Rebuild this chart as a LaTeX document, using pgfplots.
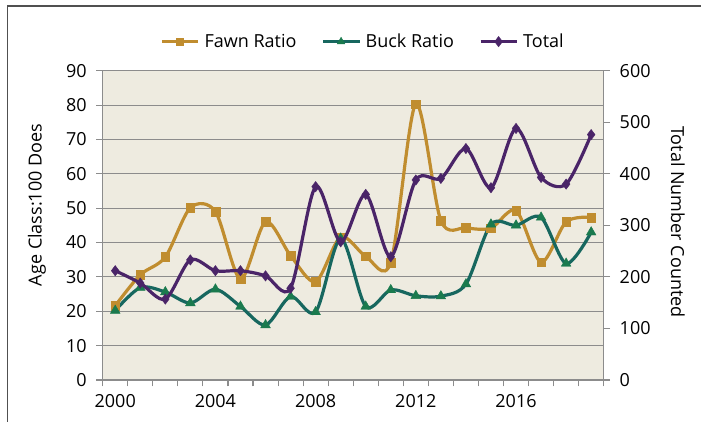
\documentclass[border=0pt]{standalone}
\usepackage{fontspec}
\setmainfont{Open Sans}
\usepackage{pgfplots}
\usepackage{pgfplotstable}
\pgfplotsset{compat=1.18}
\definecolor{fawn}{HTML}{C08D2F}
\definecolor{buck}{HTML}{17675F}
\definecolor{buckm}{HTML}{1A7A4E}
\definecolor{tot}{HTML}{4A2468}
\definecolor{bg}{HTML}{EEEBE0}
\definecolor{gridc}{HTML}{8C8C8C}
\definecolor{framec}{HTML}{505050}

\pgfplotstableread{
year fawn buck
2000 21.6 20.2
2001 30.6 26.9
2002 35.8 25.6
2003 50.1 22.4
2004 49.0 26.4
2005 29.4 21.4
2006 46.0 16.0
2007 36.2 24.3
2008 28.6 19.8
2009 41.6 41.2
2010 36.0 21.4
2011 34.2 26.2
2012 80.3 24.5
2013 46.4 24.4
2014 44.3 27.9
2015 44.2 45.3
2016 49.3 45.0
2017 34.3 47.3
2018 46.0 33.9
2019 47.3 43.0
}\ratios

\pgfplotstableread{
year total
2000 212
2001 188
2002 157
2003 233
2004 212
2005 212
2006 202
2007 178
2008 375
2009 268
2010 360
2011 239
2012 388
2013 391
2014 449
2015 373
2016 488
2017 393
2018 380
2019 476
}\totals

\newcommand\ff{\fontsize{18}{21.6}\selectfont}

\pgfplotsset{
  common/.style={
    at={(102.7pt,42pt)}, anchor=south west,
    scale only axis, width=501pt, height=309.3pt,
    xmin=1999.5, xmax=2019.5,
    tick align=outside,
    major tick length=6.5pt,
    tick style={gridc, line width=1.1pt},
    axis line style={gridc, line width=1.4pt},
    ticklabel style={font=\ff},
    /pgf/number format/assume math mode=true,
    /pgf/number format/1000 sep={},
  },
  fawnstyle/.style={fawn, line width=3.2pt, smooth, mark=square*, mark size=4.3pt,
    mark options={solid, line width=0.4pt, draw=fawn, fill=fawn}},
  buckstyle/.style={buck, line width=3.2pt, smooth, mark=triangle*, mark size=5.6pt,
    mark options={solid, line width=0.4pt, draw=buckm, fill=buckm}},
  totstyle/.style={tot, line width=3.2pt, smooth, mark=diamond*, mark size=5.2pt,
    mark options={solid, line width=0.4pt, draw=tot, fill=tot}},
}

\begin{document}
\begin{tikzpicture}[x=1pt,y=1pt]
\useasboundingbox (0,0) rectangle (701,422);
\draw[framec, line width=1.2pt] (7.5,0) -- (7.5,416) -- (701,416);

\begin{axis}[common,
  ymin=0, ymax=90, ytick={0,10,...,90},
  xtick={1999.5,2000.5,...,2019.5}, xticklabels={},
  extra x ticks={2000,2004,2008,2012,2016},
  extra x tick labels={2000,2004,2008,2012,2016},
  extra x tick style={major tick length=0pt, grid=none,
     xticklabel style={yshift=-11pt}},
  ymajorgrids, grid style={gridc, line width=1.1pt},
  axis background/.style={fill=bg},
  xtick pos=bottom, ytick pos=left,
  yticklabel style={xshift=-6pt},
  every axis y label/.style={at={(axis description cs:-0.131,0.566)}, anchor=center, rotate=90, font=\ff},
  ylabel={Age Class:100 Does},
]
\addplot[fawnstyle] table[x=year, y=fawn] {\ratios};
\addplot[buckstyle] table[x=year, y=buck] {\ratios};
\end{axis}

\begin{axis}[common,
  ymin=0, ymax=600, ytick={0,100,...,600},
  axis y line*=right, axis x line=none,
  yticklabel style={xshift=6pt},
  every axis y label/.style={at={(axis description cs:1.148,0.511)}, anchor=center, rotate=-90, font=\ff},
  ylabel={Total Number Counted},
  legend columns=3,
  legend image code/.code={\draw[mark repeat=2, mark phase=2, #1] plot coordinates {(0pt,0pt) (18pt,0pt) (36pt,0pt)};},
  legend style={draw=none, fill=none, font=\ff,
     at={(axis description cs:0.5186,1.094)}, anchor=center,
     nodes={inner sep=1pt},
     column sep=4pt,
     /tikz/every even column/.append style={column sep=24pt}},
]
\addlegendimage{fawnstyle, mark size=3.6pt}
\addlegendentry{Fawn Ratio}
\addlegendimage{buckstyle, mark size=4.4pt}
\addlegendentry{Buck Ratio}
\addplot[totstyle] table[x=year, y=total] {\totals};
\addlegendentry{Total}
\end{axis}
\end{tikzpicture}
\end{document}
